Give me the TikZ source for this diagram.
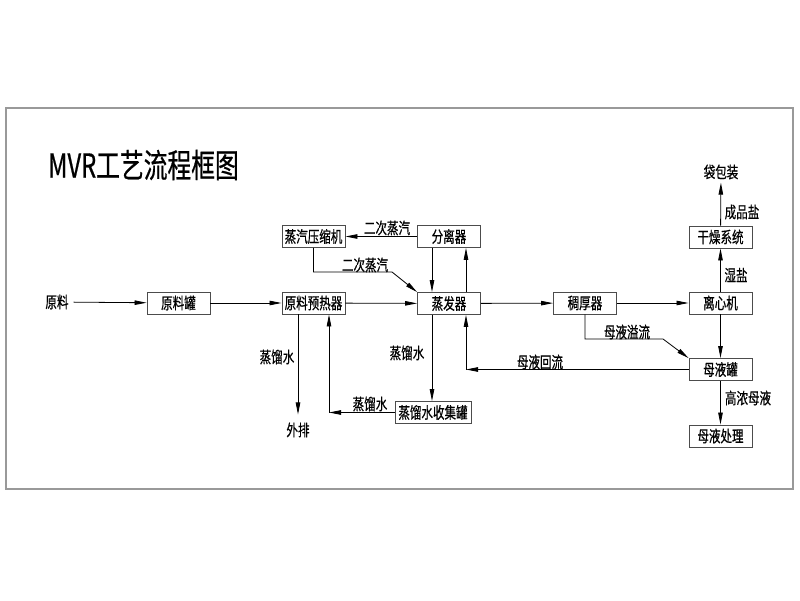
\documentclass[tikz,border=0pt]{standalone}
\usepackage{fontspec}
\setmainfont{Noto Sans CJK SC}[FakeStretch=0.72, FakeBold=0.6]
\usetikzlibrary{arrows.meta}

\begin{document}
\begin{tikzpicture}[x=1pt, y=-1pt,
		box/.style={draw=black!70, line width=.9pt, minimum width=63pt, minimum height=22pt, inner sep=0pt, font=\fontsize{16}{16}\selectfont},
		lbl/.style={inner sep=1pt, font=\fontsize{16}{16}\selectfont},
		arr/.style={line width=.8pt, -{Stealth[length=12pt, width=4.5pt, inset=0pt]}}]
				\useasboundingbox (0,0) rectangle (800,600);
				\draw[black!40, line width=1.5pt] (6,108) rectangle (793,489);
				\node[anchor=west, inner sep=0pt, font=\fontsize{33}{33}\selectfont] (title) at (48,165) {MVR工艺流程框图};

				% boxes
				\node[lbl, inner sep=5pt] (yl) at (57,302) {原料};
				\node[box] (ylg) at (178.5,303) {原料罐};
				\node[box] (yrq) at (313.5,303) {原料预热器};
				\node[box] (ysj) at (313.5,236.5) {蒸汽压缩机};
				\node[box] (flq) at (449,236.5) {分离器};
				\node[box] (zfq) at (449,303.5) {蒸发器};
				\node[box, minimum width=76pt] (zss) at (433,412.5) {蒸馏水收集罐};
				\node[box] (cht) at (585,303) {稠厚器};
				\node[box] (lxj) at (720.5,303) {离心机};
				\node[box] (gz) at (720.5,237) {干燥系统};
				\node[lbl, inner sep=3pt] (dbz) at (721,172) {袋包装};
				\node[box] (myg) at (720.5,369.5) {母液罐};
				\node[box] (mycl) at (720.5,436) {母液处理};
				\node[lbl] (wp) at (298,430) {外排};

				% bends
				\coordinate (c2) at (392,272);
				\coordinate (c3) at (329,412.5);
				\coordinate (c4) at (466,369.5);
				\coordinate (c5) at (663,339);

				% main line
				\draw[arr] (yl) -- (ylg);
				\draw[arr] (ylg) -- (yrq);
				\draw[arr] (yrq) -- (zfq);
				\draw[arr] (zfq) -- (cht);
				\draw[arr] (cht) -- (lxj);
				\draw[arr] (lxj) -- (gz);
				\draw[arr] (gz) -- (dbz);
				\draw[arr] (lxj) -- (myg);
				\draw[arr] (myg) -- (mycl);

				% vapour
				\draw[arr] (flq) -- (ysj);
				\draw[arr] ([xshift=-17pt]flq.south) -- ([xshift=-17pt]zfq.north);
				\draw[arr] ([xshift=17pt]zfq.north) -- ([xshift=17pt]flq.south);
				\draw[arr] (ysj.south) -- (ysj.south |- c2) -- (c2) -- (zfq.north west);

				% water
				\draw[arr] ([xshift=-17pt]zfq.south) -- ([xshift=-17pt]zfq.south |- zss.north);
				\draw[arr] (zss.west) -- (c3);
				\draw[arr] (c3) -- (c3 |- yrq.south);
				\draw[arr, shorten >=7pt] ([xshift=-15.5pt]yrq.south) -- (wp.north);

				% mother liquor
				\draw[arr] (myg.west) -- (c4);
				\draw[arr] (c4) -- (c4 |- zfq.south);
				\draw[arr] (cht.south) -- (cht.south |- c5) -- (c5) -- (myg.north west);

				% labels
				\node[lbl] at (387,228) {二次蒸汽};
				\node[lbl] at (365,265) {二次蒸汽};
				\node[lbl] at (277,357) {蒸馏水};
				\node[lbl] at (407,353) {蒸馏水};
				\node[lbl] at (370,404) {蒸馏水};
				\node[lbl] at (540,362) {母液回流};
				\node[lbl] at (627,332) {母液溢流};
				\node[lbl] at (736,275) {湿盐};
				\node[lbl] at (742,212) {成品盐};
				\node[lbl] at (748,398) {高浓母液};

			\end{tikzpicture}
\end{document}
